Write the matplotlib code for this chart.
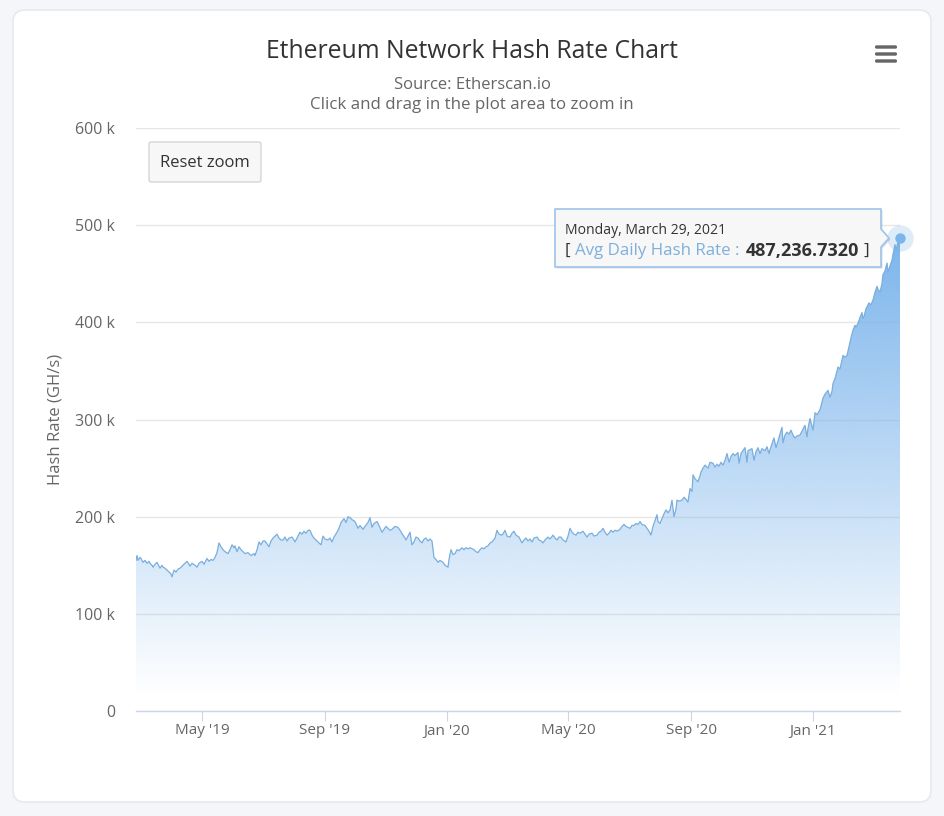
import datetime as dt

import matplotlib
matplotlib.use("Agg")
import matplotlib.dates as mdates
import matplotlib.pyplot as plt
import numpy as np
from matplotlib.patches import FancyBboxPatch, Polygon

# days counted from Jan 1 2020, values in thousands of GH/s
days = [
    -311, -310, -309, -307, -306, -304, -302, -300, -298, -297,
    -295, -294, -292, -290, -288, -287, -285, -284, -282, -280,
    -278, -276, -275, -273, -271, -269, -267, -264, -262, -260,
    -258, -257, -255, -252, -250, -248, -245, -243, -240, -238,
    -236, -234, -232, -230, -228, -226, -224, -222, -219, -217,
    -215, -213, -212, -210, -208, -206, -204, -202, -199, -196,
    -193, -192, -190, -188, -186, -184, -182, -180, -178, -176,
    -174, -172, -170, -168, -166, -164, -162, -160, -158, -155,
    -153, -152, -150, -147, -145, -143, -141, -139, -137, -135,
    -133, -130, -128, -126, -124, -122, -119, -117, -115, -113,
    -110, -108, -106, -103, -101, -99, -97, -95, -92, -89,
    -87, -84, -82, -79, -77, -75, -73, -70, -68, -65,
    -63, -61, -59, -57, -55, -52, -49, -47, -44, -42,
    -41, -39, -37, -35, -33, -31, -29, -27, -25, -23,
    -21, -19, -17, -15, -13, -11, -9, -7, -4, -2,
    1, 2, 4, 6, 8, 10, 12, 15, 17, 19,
    21, 23, 25, 27, 29, 31, 33, 35, 37, 39,
    41, 43, 45, 48, 50, 52, 55, 57, 58, 60,
    63, 65, 67, 69, 72, 75, 77, 79, 81, 83,
    85, 87, 90, 92, 94, 96, 98, 101, 103, 106,
    108, 110, 112, 114, 116, 119, 121, 123, 125, 127,
    129, 131, 133, 136, 138, 140, 142, 145, 147, 150,
    152, 154, 156, 158, 160, 162, 164, 166, 168, 170,
    173, 175, 177, 179, 181, 183, 185, 187, 189, 191,
    193, 195, 198, 200, 202, 204, 206, 208, 210, 211,
    213, 215, 217, 219, 221, 223, 225, 226, 227, 229,
    230, 232, 235, 237, 239, 241, 243, 245, 246, 248,
    251, 253, 254, 256, 258, 261, 263, 266, 268, 270,
    272, 274, 276, 278, 280, 282, 284, 286, 288, 291,
    292, 294, 296, 298, 300, 301, 303, 305, 307, 309,
    311, 313, 315, 318, 320, 322, 323, 325, 327, 329,
    331, 333, 335, 336, 338, 340, 342, 344, 346, 348,
    350, 353, 355, 358, 360, 361, 363, 366, 367, 368,
    370, 373, 375, 376, 378, 381, 383, 385, 386, 388,
    391, 393, 395, 396, 398, 400, 402, 404, 406, 408,
    409, 411, 413, 415, 416, 417, 419, 422, 424, 426,
    428, 430, 431, 433, 435, 436, 438, 440, 441, 443,
    445, 446, 448, 449, 451, 452, 453,
]
hash_rate = [
    155, 160, 155, 158, 157, 153, 155, 152, 154, 152,
    150, 148, 151, 153, 149, 147, 150, 148, 147, 145,
    143, 141, 138, 145, 143, 146, 147, 150, 152, 154,
    151, 149, 152, 150, 148, 152, 154, 151, 157, 154,
    156, 155, 158, 163, 173, 169, 166, 164, 162, 166,
    171, 168, 170, 164, 169, 166, 164, 162, 163, 160,
    162, 160, 166, 174, 171, 175, 175, 172, 169, 175,
    178, 180, 182, 178, 176, 176, 179, 175, 178, 179,
    176, 174, 178, 184, 182, 185, 183, 186, 186, 181,
    178, 175, 173, 171, 180, 177, 176, 178, 174, 179,
    184, 188, 194, 198, 194, 200, 199, 197, 195, 188,
    191, 187, 190, 194, 199, 189, 193, 195, 191, 184,
    187, 190, 188, 186, 187, 190, 189, 186, 181, 178,
    176, 180, 184, 171, 174, 179, 178, 175, 173, 177,
    178, 175, 177, 175, 158, 156, 153, 155, 153, 150,
    148, 156, 166, 161, 162, 166, 165, 168, 166, 168,
    167, 168, 167, 166, 164, 163, 166, 168, 167, 169,
    170, 173, 174, 178, 186, 182, 181, 184, 186, 180,
    179, 183, 185, 181, 179, 173, 176, 178, 175, 177,
    174, 178, 179, 176, 175, 173, 176, 179, 177, 181,
    178, 176, 179, 179, 176, 174, 180, 188, 184, 182,
    181, 184, 183, 185, 182, 179, 182, 183, 180, 181,
    184, 185, 188, 184, 181, 183, 186, 184, 186, 185,
    187, 190, 192, 190, 189, 188, 191, 191, 193, 192,
    195, 192, 191, 188, 185, 181, 190, 196, 202, 195,
    193, 198, 203, 207, 204, 207, 217, 208, 200, 208,
    217, 216, 217, 220, 218, 215, 229, 226, 243, 239,
    236, 242, 246, 250, 253, 250, 256, 255, 251, 254,
    252, 256, 253, 258, 265, 256, 262, 265, 263, 266,
    255, 265, 268, 271, 256, 268, 269, 270, 258, 267,
    271, 265, 270, 268, 272, 265, 269, 275, 281, 271,
    278, 285, 292, 276, 284, 287, 285, 289, 284, 281,
    283, 284, 288, 294, 282, 291, 301, 289, 298, 307,
    305, 310, 318, 322, 326, 330, 323, 329, 337, 342,
    354, 352, 361, 366, 364, 366, 375, 384, 392, 397,
    395, 399, 405, 410, 404, 406, 414, 420, 418, 423,
    431, 437, 434, 431, 440, 449, 453, 461, 452, 458,
    464, 470, 480, 474, 483, 478, 487.2367,
]

y_ticks = [0, 100, 200, 300, 400, 500, 600]
y_labels = ["0", "100 k", "200 k", "300 k", "400 k", "500 k", "600 k"]
x_tick_dates = [
    dt.date(2019, 5, 1), dt.date(2019, 9, 1), dt.date(2020, 1, 1),
    dt.date(2020, 5, 1), dt.date(2020, 9, 1), dt.date(2021, 1, 1),
]
x_labels = ["May '19", "Sep '19", "Jan '20", "May '20", "Sep '20", "Jan '21"]

W, H = 944, 816
SERIES = "#7cb5ec"

plt.rcParams["font.family"] = ["Open Sans", "DejaVu Sans"]

fig = plt.figure(figsize=(W / 100, H / 100), dpi=100, facecolor="#f4f6fa")


def pixel_axes(zorder):
    a = fig.add_axes([0, 0, 1, 1], zorder=zorder)
    a.set_xlim(0, W)
    a.set_ylim(H, 0)
    a.axis("off")
    a.patch.set_alpha(0)
    return a


# card behind the chart
back = pixel_axes(0)
back.add_patch(FancyBboxPatch((13, 10), 918, 792, boxstyle="round,pad=0,rounding_size=12",
                              fc="white", ec="#e6e9ee", lw=1.2))

# plot area
ax = fig.add_axes([136 / W, 1 - 711 / H, 764 / W, 583 / H], zorder=1)
ax.patch.set_alpha(0)
base = dt.date(2020, 1, 1)
x = mdates.date2num([base + dt.timedelta(days=d) for d in days])
y = np.array(hash_rate)

ax.grid(axis="y", color="#e6e6e6", lw=1)
ax.set_axisbelow(True)

# area fill with vertical fade, gone a little above the axis
grad = np.zeros((256, 1, 4))
grad[..., :3] = matplotlib.colors.to_rgb(SERIES)
grad[:, 0, 3] = np.clip(np.linspace(1.0, -0.03, 256), 0, 1)
area = ax.fill_between(x, y, 0, color="none", lw=0)
img = ax.imshow(grad, aspect="auto", origin="upper", extent=[x[0], x[-1], 0, y.max()],
                interpolation="bilinear", zorder=1.5)
img.set_clip_path(area.get_paths()[0], transform=ax.transData)
ax.plot(x, y, color="#7aaedd", lw=0.9, zorder=2, solid_joinstyle="round")

# hovered point
ax.plot(x[-1], y[-1], "o", ms=19, mfc=SERIES, mec="none", alpha=0.25, clip_on=False, zorder=3)
ax.plot(x[-1], y[-1], "o", ms=7.5, mfc=SERIES, mec="none", clip_on=False, zorder=4)

ax.set_xlim(x[0], x[-1])
ax.set_ylim(0, 600)
ax.set_yticks(y_ticks, y_labels)
ax.set_xticks(mdates.date2num(x_tick_dates), x_labels)
for side in ["top", "left", "right"]:
    ax.spines[side].set_visible(False)
ax.spines["bottom"].set_color("#ccd6eb")
ax.spines["bottom"].set_linewidth(1)
ax.tick_params(axis="y", length=0, pad=15, labelsize=11.5, labelcolor="#666666")
ax.tick_params(axis="x", length=7.5, width=0.8, color="#ccd6eb", pad=1.5, labelsize=11,
               labelcolor="#666666")

# everything else is placed in pixels
ui = pixel_axes(2)
ui.text(472, 51, "Ethereum Network Hash Rate Chart", ha="center", va="center", fontsize=17.8,
        color="#333333")
ui.text(472, 85, "Source: Etherscan.io", ha="center", va="center", fontsize=12, color="#666666")
ui.text(472, 105, "Click and drag in the plot area to zoom in", ha="center", va="center",
        fontsize=12.2, color="#666666")
ui.text(56, 419, "Hash Rate (GH/s)", rotation=90, ha="center", va="center", fontsize=12,
        color="#666666")

# export menu icon
for bar_y in [47, 54, 61]:
    ui.add_patch(FancyBboxPatch((875, bar_y - 1.7), 22, 3.4, boxstyle="round,pad=0,rounding_size=1.5",
                                fc="#666666", ec="none"))

# reset zoom button
ui.add_patch(FancyBboxPatch((149, 142), 112, 40, boxstyle="round,pad=0,rounding_size=2",
                            fc="#f7f7f7", ec="#cccccc", lw=0.8))
ui.text(205, 163, "Reset zoom", ha="center", va="center", fontsize=12, color="#333333")

# tooltip
tip_pts = [(555, 209), (881, 209), (881, 229), (889, 238), (881, 247), (881, 267), (555, 267)]
ui.add_patch(Polygon([(px + 1.5, py + 1.5) for px, py in tip_pts], closed=True, fc="#000000",
                     ec="none", alpha=0.14))
ui.add_patch(Polygon(tip_pts, closed=True, fc="#f7f7f7", ec="#9cc4ea", lw=1.2, joinstyle="round"))
ui.text(565, 231, "Monday, March 29, 2021", va="center", fontsize=10.1, color="#333333")
ui.text(565, 251, "[", va="center", fontsize=12.2, color="#333333")
ui.text(575, 251, "Avg Daily Hash Rate :", va="center", fontsize=12.2, color="#7eb0dc")
ui.text(746, 251, "487,236.7320", va="center", fontsize=13, fontweight="bold", color="#333333")
ui.text(864, 251, "]", va="center", fontsize=12.2, color="#333333")

fig.savefig("out.png", dpi=100, facecolor=fig.get_facecolor())
